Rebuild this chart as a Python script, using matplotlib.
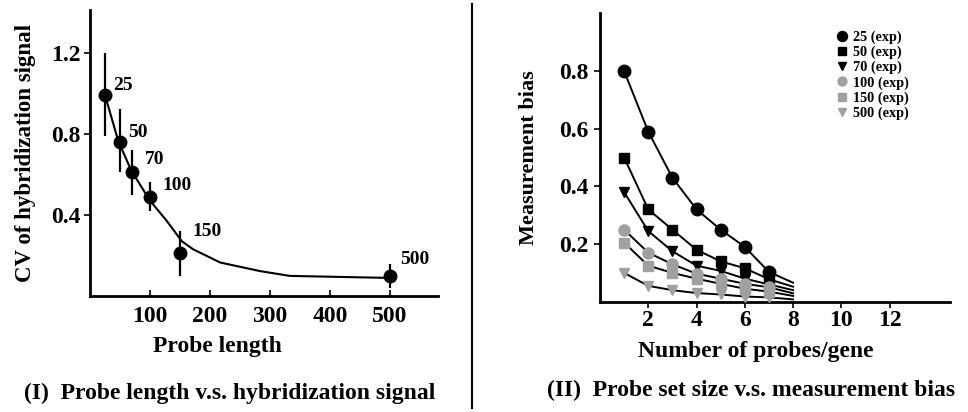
import matplotlib
matplotlib.use("Agg")
from matplotlib import pyplot as plt

plt.rcParams['font.family'] = ['Liberation Serif', 'DejaVu Serif']
plt.rcParams['font.weight'] = 'bold'

# (I) probe length vs CV of hybridization signal
probe_len = [25, 50, 70, 100, 150, 500]
cv = [0.99, 0.76, 0.61, 0.49, 0.21, 0.10]
cv_lo = [0.79, 0.61, 0.50, 0.42, 0.10, 0.04]
cv_hi = [1.20, 0.92, 0.72, 0.56, 0.32, 0.16]
fit_len = [25, 47, 69, 100, 128, 153, 172, 217, 283, 333, 500]
fit_cv = [0.99, 0.765, 0.617, 0.47, 0.37, 0.27, 0.23, 0.165, 0.123, 0.099, 0.089]
# label offsets in points (dx, dy)
label_off = [(6, 7), (6, 7), (9, 9), (9, 8), (9, 16), (7, 12)]

# (II) probes per gene vs measurement bias
n_probes = [1, 2, 3, 4, 5, 6, 7]
fit_end = 8
bias = {
    '25': [0.80, 0.59, 0.43, 0.32, 0.25, 0.19, 0.103],
    '50': [0.50, 0.32, 0.25, 0.18, 0.14, 0.116, 0.078],
    '70': [0.38, 0.245, 0.175, 0.125, 0.107, 0.08, 0.06],
    '100': [0.25, 0.17, 0.13, 0.097, 0.08, 0.062, 0.05],
    '150': [0.205, 0.125, 0.10, 0.08, 0.062, 0.045, 0.035],
    '500': [0.10, 0.055, 0.04, 0.03, 0.025, 0.018, 0.015],
}
bias_end = {'25': 0.066, '50': 0.052, '70': 0.040, '100': 0.029, '150': 0.020, '500': 0.008}
styles = {
    '25': ('o', 'black', 9),
    '50': ('s', 'black', 6.5),
    '70': ('v', 'black', 7.5),
    '100': ('o', '#a0a0a0', 8),
    '150': ('s', '#a0a0a0', 6.5),
    '500': ('v', '#a0a0a0', 7.5),
}

fig = plt.figure(figsize=(9.68, 4.12), dpi=100)

# left panel
ax1 = fig.add_axes([0.093, 0.2816, 0.3595, 0.694])
ax1.plot(fit_len, fit_cv, color='black', lw=1.5)
ax1.vlines(probe_len, cv_lo, cv_hi, color='black', lw=1.6)
ax1.plot(probe_len, cv, 'o', color='black', ms=9)
for x, y, off in zip(probe_len, cv, label_off):
    ax1.annotate(str(x), (x, y), xytext=off, textcoords='offset points',
                 fontsize=14, fontweight='bold', va='center')
ax1.set_xlim(0, 580)
ax1.set_ylim(0, 1.41)
ax1.set_xticks([100, 200, 300, 400, 500])
ax1.set_yticks([0.4, 0.8, 1.2])
ax1.set_xlabel('Probe length', fontsize=17, fontweight='bold')
ax1.xaxis.set_label_coords(0.365, -0.14)
ax1.set_ylabel('CV of hybridization signal', fontsize=16.5, fontweight='bold', labelpad=11)
ax1.tick_params(axis='x', direction='in', length=4, width=1.2, labelsize=17, pad=7)
ax1.tick_params(axis='y', direction='out', length=4, width=1.2, labelsize=17, pad=3)

# right panel
ax2 = fig.add_axes([0.6198, 0.2677, 0.3616, 0.700])
for key in bias:
    ax2.plot(n_probes + [fit_end], bias[key] + [bias_end[key]], color='black', lw=1.4, zorder=2)
for key in bias:
    m, c, ms = styles[key]
    ax2.plot(n_probes, bias[key], m, color=c, ms=ms, label=key + ' (exp)', zorder=3)
ax2.set_xlim(0, 14.5)
ax2.set_ylim(0, 1.0)
ax2.set_xticks([2, 4, 6, 8, 10, 12])
ax2.set_yticks([0.2, 0.4, 0.6, 0.8])
ax2.set_xlabel('Number of probes/gene', fontsize=17, fontweight='bold')
ax2.xaxis.set_label_coords(0.446, -0.135)
ax2.set_ylabel('Measurement bias', fontsize=16, fontweight='bold', labelpad=15)
ax2.tick_params(axis='x', direction='out', length=4, width=1.2, labelsize=17, pad=2)
ax2.tick_params(axis='y', direction='out', length=4, width=1.2, labelsize=17, pad=4)
leg = ax2.legend(loc='upper left', bbox_to_anchor=(0.65, 0.965), frameon=False,
                 fontsize=10.3, handletextpad=0.3, labelspacing=0.12, borderpad=0,
                 handlelength=1.0, markerscale=0.8)

for ax in (ax1, ax2):
    ax.spines['top'].set_visible(False)
    ax.spines['right'].set_visible(False)
    ax.spines['left'].set_linewidth(2)
    ax.spines['bottom'].set_linewidth(2)

# captions and divider
fig.text(0.2376, 0.046, '(I)  Probe length v.s. hybridization signal', ha='center', va='center',
         fontsize=17, fontweight='bold')
fig.text(0.7758, 0.053, '(II)  Probe set size v.s. measurement bias', ha='center', va='center',
         fontsize=17, fontweight='bold')
fig.add_artist(plt.Line2D([0.4876, 0.4876], [0.01, 0.99], color='black', lw=1.5))

fig.savefig('out.png', dpi=100)
